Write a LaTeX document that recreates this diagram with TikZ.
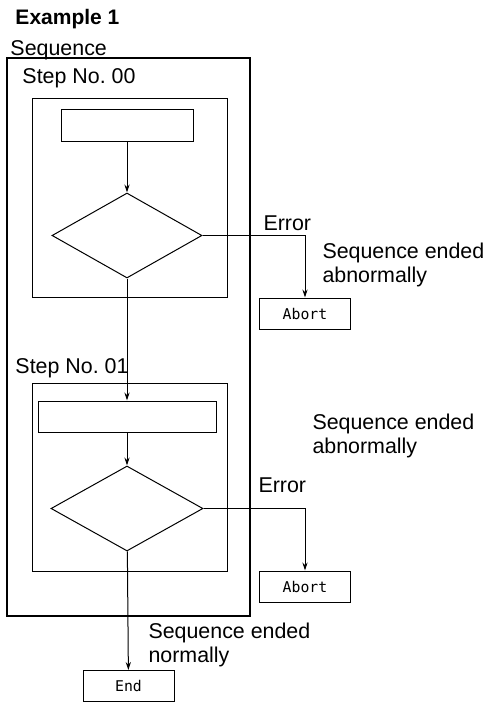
\documentclass[tikz,border=0pt]{standalone}
\usepackage{fontspec}
\setmainfont{Liberation Sans}
\newfontfamily\monofont{DejaVu Sans Mono}
\usetikzlibrary{arrows.meta,shapes.geometric}
\frenchspacing

\begin{document}
\begin{tikzpicture}[x=0.5pt,y=-0.5pt,line width=0.5pt,
        txt/.style={anchor=base west,inner sep=0,font=\fontsize{10.7}{12}\selectfont,align=left},
        proc/.style={draw,inner sep=0,minimum width=#1},
        dec/.style={draw,diamond,inner sep=0,minimum width=#1,minimum height=42.5pt},
        term/.style={draw,inner sep=0,minimum width=45.5pt,minimum height=15.5pt,font=\monofont\fontsize{7.4}{8}\selectfont},
        flow/.style={-{Stealth[length=4pt,width=2.6pt]}}]
        \useasboundingbox (0,0) rectangle (483,702);
        \draw[line width=0.75pt] (7,58) rectangle (250,616);
        \draw (32,98) rectangle (227,297);
        \draw (32,383) rectangle (227,571);
        \node[proc=66pt,minimum height=16pt] (proc0) at (127,125) {};
        \node[dec=75pt] (dia0) at (127,235.5) {};
        \node[term] (abort0) at (305,313.5) {Abort};
        \node[proc=89pt,minimum height=15.5pt] (proc1) at (127,416.5) {};
        \node[dec=76pt] (dia1) at (127,508.5) {};
        \node[term] (abort1) at (305,586.5) {Abort};
        \node[term] (end) at (128.5,686) {End};
        \draw[flow] (proc0) -- (dia0);
        \draw[flow] (dia0) -- (proc1);
        \draw[flow] (proc1) -- (dia1);
        \draw[flow] (dia1) -- (end);
        \draw[flow] (dia0.east) -| (abort0);
        \draw[flow] (dia1.east) -| (abort1);
        \node[txt,font=\bfseries\fontsize{10.5}{12}\selectfont] (title) at (15,24) {Example 1};
        \node[txt] (seqlbl) at (10,55) {Sequence};
        \node[txt] (step0lbl) at (22,83) {Step No. 00};
        \node[txt] (step1lbl) at (15,373) {Step No. 01};
        \node[txt] (err0) at (263,230) {Error};
        \node[txt] (err1) at (258,492) {Error};
        \node[txt] (abn0) at (322,282) {Sequence ended\\abnormally};
        \node[txt] (abn1) at (312,453) {Sequence ended\\abnormally};
        \node[txt] (norm) at (148,662) {Sequence ended\\normally};
\end{tikzpicture}
\end{document}
